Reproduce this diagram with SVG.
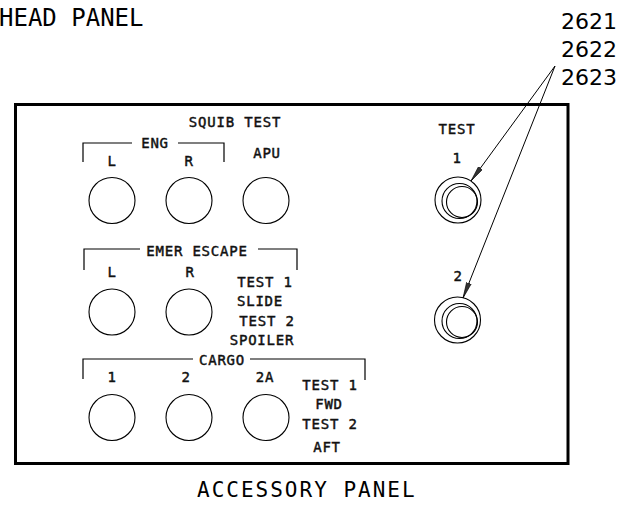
<svg xmlns="http://www.w3.org/2000/svg" width="638" height="508" viewBox="0 0 638 508">
<style>
.lbl{font-family:"DejaVu Sans Mono","Liberation Mono",monospace;font-size:14px;letter-spacing:0.8px;fill:#111;stroke:#111;stroke-width:0.45;text-anchor:middle}
.big{font-family:"DejaVu Sans Mono","Liberation Mono",monospace;fill:#000}
.num{font-family:"DejaVu Sans","Liberation Sans",sans-serif;font-size:22px;fill:#000}
.ln{fill:none;stroke:#000;stroke-width:1.2}
.sw{fill:none;stroke:#000;stroke-width:1.1}
</style>
<defs>
<marker id="arr" viewBox="0 0 16 6" refX="16" refY="3" markerWidth="16" markerHeight="6" markerUnits="userSpaceOnUse" orient="auto">
<path d="M0,0.6 L16,3 L0,5.4 Z" fill="#333" stroke="#000" stroke-width="0.6"/>
</marker>
</defs>
<rect width="638" height="508" fill="#fff"/>
<text class="big" x="-1" y="26" font-size="24">HEAD PANEL</text>
<text class="big" x="197" y="497" font-size="21" letter-spacing="2">ACCESSORY PANEL</text>
<g id="refs">
<text class="num" x="561" y="29">2621</text>
<text class="num" x="561" y="57">2622</text>
<text class="num" x="561" y="85">2623</text>
</g>
<g id="panel">
<rect x="15.5" y="104.5" width="552.5" height="359" fill="none" stroke="#000" stroke-width="3"/>
<text class="lbl" x="235" y="127">SQUIB TEST</text>
</g>
<g id="eng">
<path class="ln" d="M83,162 V143 H132 M178,143 H224 V162"/>
<text class="lbl" x="155" y="148">ENG</text>
<text class="lbl" x="112" y="166">L</text>
<text class="lbl" x="189" y="166">R</text>
<circle class="sw" cx="112" cy="200.5" r="23"/>
<circle class="sw" cx="189" cy="200.5" r="23"/>
</g>
<g id="apu">
<text class="lbl" x="267" y="158">APU</text>
<circle class="sw" cx="266" cy="200.5" r="23"/>
</g>
<g id="emer">
<path class="ln" d="M84,270 V249 H140 M258,249 H297 V270"/>
<text class="lbl" x="197" y="256">EMER ESCAPE</text>
<text class="lbl" x="112" y="277">L</text>
<text class="lbl" x="190" y="277">R</text>
<circle class="sw" cx="112" cy="312" r="23"/>
<circle class="sw" cx="189" cy="312" r="23"/>
<text class="lbl" x="265" y="287">TEST 1</text>
<text class="lbl" x="260" y="306">SLIDE</text>
<text class="lbl" x="267" y="326">TEST 2</text>
<text class="lbl" x="262" y="345">SPOILER</text>
</g>
<g id="cargo">
<path class="ln" d="M83,379 V359 H193 M250,359 H365 V380"/>
<text class="lbl" x="222" y="365">CARGO</text>
<text class="lbl" x="112" y="382">1</text>
<text class="lbl" x="186" y="382">2</text>
<text class="lbl" x="265" y="382">2A</text>
<circle class="sw" cx="112" cy="417.5" r="23"/>
<circle class="sw" cx="189" cy="417.5" r="23"/>
<circle class="sw" cx="266" cy="417.5" r="23"/>
<text class="lbl" x="330" y="390">TEST 1</text>
<text class="lbl" x="329" y="409">FWD</text>
<text class="lbl" x="330" y="429">TEST 2</text>
<text class="lbl" x="327" y="452">AFT</text>
</g>
<g id="test1">
<text class="lbl" x="457" y="134">TEST</text>
<text class="lbl" x="457" y="163">1</text>
<circle class="sw" cx="458" cy="200" r="23"/>
<circle class="sw" cx="459.5" cy="201" r="17.5"/>
<circle class="sw" cx="462" cy="202" r="15.5"/>
</g>
<g id="test2">
<text class="lbl" x="458" y="281">2</text>
<circle class="sw" cx="457.5" cy="320" r="23"/>
<circle class="sw" cx="459.5" cy="321" r="17.5"/>
<circle class="sw" cx="462" cy="322" r="15.5"/>
</g>
<g id="connectors">
<line x1="555" y1="66" x2="471" y2="181" stroke="#000" stroke-width="1" marker-end="url(#arr)"/>
<line x1="555" y1="66" x2="463" y2="298" stroke="#000" stroke-width="1" marker-end="url(#arr)"/>
</g>
</svg>
